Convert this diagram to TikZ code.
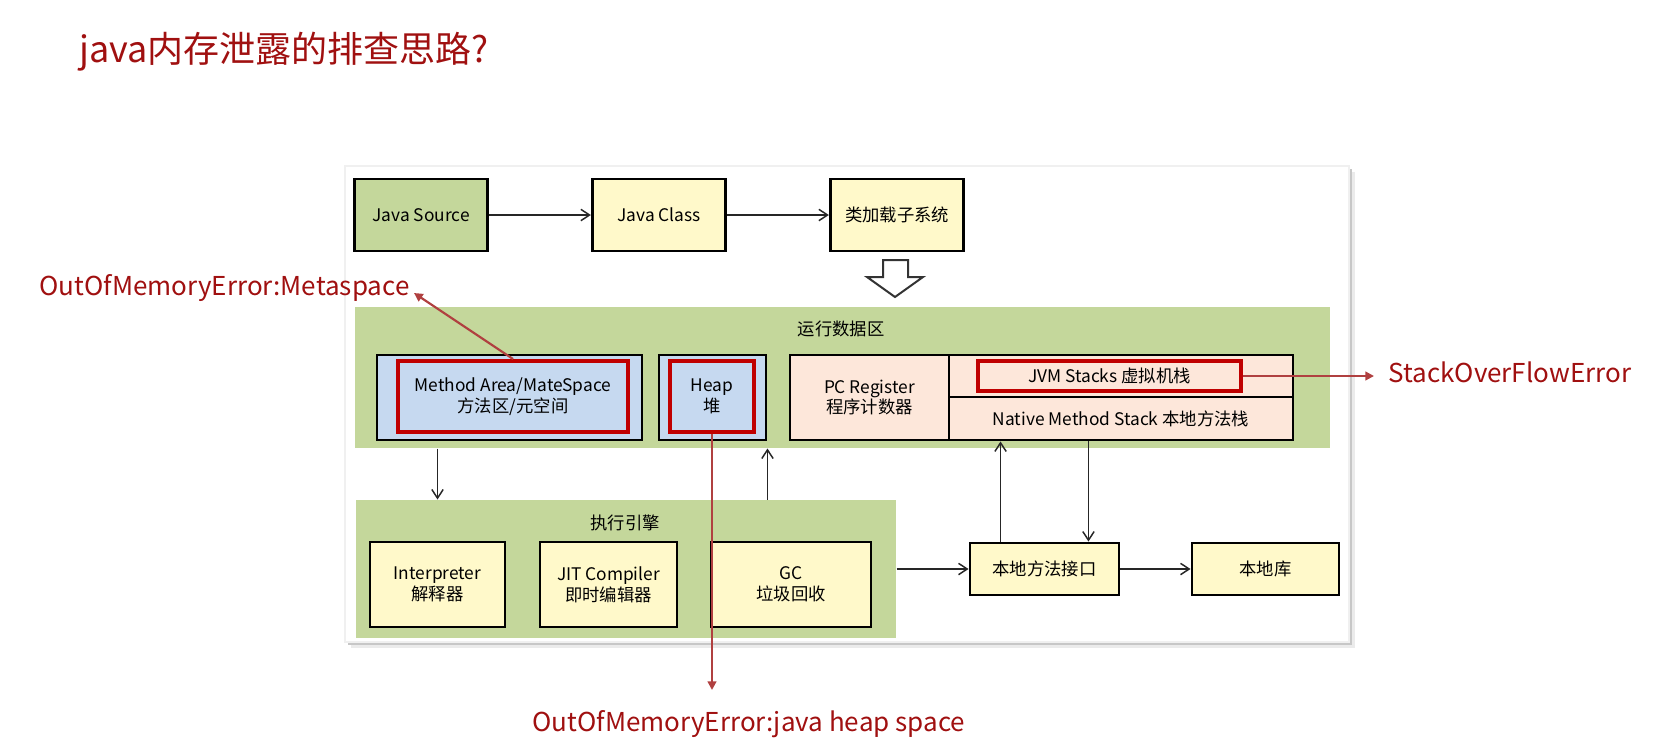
\documentclass[tikz,border=0pt]{standalone}
\usepackage{fontspec}
\setmainfont{Noto Sans CJK SC}
\usetikzlibrary{arrows.meta,calc}

\definecolor{areagreen}{HTML}{C4D79B}
\definecolor{boxyellow}{HTML}{FFF9CA}
\definecolor{memblue}{HTML}{C6D9F0}
\definecolor{pcpeach}{HTML}{FDE7DA}
\definecolor{boxred}{HTML}{C00000}
\definecolor{errred}{HTML}{A01010}
\definecolor{arrowred}{HTML}{B04040}

\tikzset{every picture/.style={line width=0.75pt}}
\tikzset{
  area/.style={fill=areagreen, inner sep=0pt},
  areatext/.style={inner sep=0pt, font=\fontsize{13}{15.5}\selectfont},
  unitbox/.style={draw=black, line width=2.2pt, align=center, inner sep=0pt,
    font=\fontsize{13}{15.5}\selectfont},
  redbox/.style={draw=boxred, line width=3pt, align=center, inner sep=0pt,
    font=\fontsize{13}{15.5}\selectfont},
  errlabel/.style={text=errred, inner sep=0pt, anchor=west,
    font=\fontsize{19.5}{23}\selectfont},
  flow/.style={draw=black!85, line width=1.1pt, -{Straight Barb[length=6.5pt,width=8.5pt]}},
  errarrow/.style={draw=arrowred, line width=1.6pt, -{Triangle[length=6.5pt,width=6.5pt]}}
}

\begin{document}
\begin{tikzpicture}[x=0.75pt,y=0.75pt,yscale=-1,xscale=1]
\useasboundingbox (0,0) rectangle (1653,744);

% Title
\node[inner sep=0pt, anchor=west, text=errred, font=\fontsize{27}{32}\selectfont] (title) at (79,52) {java内存泄露的排查思路?};

% Panel
\fill[black!8] (351,172) rectangle (1355,648);
\fill[black!22] (348,169) rectangle (1352,645);
\draw[black!6, line width=1pt, fill=white] (345,166) rectangle (1349,642);

% Text Node
\node[unitbox, fill=areagreen, minimum width=100pt, minimum height=54pt] (javasrc) at (421,215) {Java Source};
% Text Node
\node[unitbox, fill=boxyellow, minimum width=100pt, minimum height=54pt] (javacls) at (659,215) {Java Class};
% Text Node
\node[unitbox, fill=boxyellow, minimum width=100pt, minimum height=54pt] (loader) at (897,215) {类加载子系统};

% Block arrow
\draw[draw=black!80, line width=1.5pt, fill=white] (883,260) -- (908,260) -- (908,277) -- (923,277) -- (895,297) -- (867,277) -- (883,277) -- cycle;

% Runtime data area
\node[area, minimum width=731.25pt, minimum height=105.75pt] (rtarea) at (842.5,377.5) {};
\node[areatext] (rtlabel) at (841,329) {运行数据区};
% Text Node
\node[unitbox, fill=memblue, minimum width=198.75pt, minimum height=63.75pt] (marea) at (509.5,397.5) {};
\node[redbox, minimum width=172.5pt, minimum height=53.25pt] (mareain) at (513,396.5) {Method Area/MateSpace\\方法区/元空间};
% Text Node
\node[unitbox, fill=memblue, minimum width=80.25pt, minimum height=63.75pt] (heap) at (712.5,397.5) {};
\node[redbox, minimum width=63pt, minimum height=53.25pt] (heapin) at (712,396.5) {Heap\\堆};
% Text Node
\node[unitbox, fill=pcpeach, minimum width=119.25pt, minimum height=63.75pt] (pcreg) at (869.5,397.5) {PC Register\\程序计数器};
\node[unitbox, fill=pcpeach, minimum width=258pt, minimum height=31.5pt] (jvmstk) at (1121,376) {};
\node[unitbox, fill=pcpeach, minimum width=258pt, minimum height=32.25pt] (nstack) at (1121,418.5) {Native Method Stack 本地方法栈};
\node[redbox, minimum width=197.25pt, minimum height=22.5pt] (jvmin) at (1109.5,376) {JVM Stacks 虚拟机栈};

% Execution engine
\node[area, minimum width=405pt, minimum height=103.5pt] (exec) at (626,569) {};
\node[areatext] (execlabel) at (625,523) {执行引擎};
% Text Node
\node[unitbox, fill=boxyellow, minimum width=101.25pt, minimum height=63.75pt] (interp) at (437.5,584.5) {Interpreter\\解释器};
% Text Node
\node[unitbox, fill=boxyellow, minimum width=102.75pt, minimum height=63.75pt] (jit) at (608.5,584.5) {JIT Compiler\\即时编辑器};
% Text Node
\node[unitbox, fill=boxyellow, minimum width=120pt, minimum height=63.75pt] (gc) at (791,584.5) {GC\\垃圾回收};

% Text Node
\node[unitbox, fill=boxyellow, minimum width=111.75pt, minimum height=39pt] (jni) at (1044.5,569) {本地方法接口};
% Text Node
\node[unitbox, fill=boxyellow, minimum width=110.25pt, minimum height=39pt] (nlib) at (1265.5,569) {本地库};

% Error labels
\node[errlabel] (metalabel) at (39,288) {OutOfMemoryError:Metaspace};
\node[errlabel] (heaplabel) at (532,724) {OutOfMemoryError:java heap space};
\node[errlabel] (sofe) at (1388,372) {StackOverFlowError};
\coordinate (metatip) at (414,293);
\coordinate (heaptip) at (712,690);
\coordinate (sofetip) at (1374,376);
\coordinate (jniup) at ($(jni.north west)+(32,0)$);
\coordinate (jnidown) at ($(jni.north east)+(-32,0)$);

% Connection
\draw[flow] (javasrc) -- (javacls);
% Connection
\draw[flow] (javacls) -- (loader);
% Connection
\draw[flow] (rtarea.south -| interp.north) -- (exec.north -| interp.north);
% Connection
\draw[flow] (exec.north -| heap.east) -- (rtarea.south -| heap.east);
% Connection
\draw[flow] (exec.east) -- (jni.west);
% Connection
\draw[flow] (jni) -- (nlib);
% Connection
\draw[flow] (jniup) -- (jniup |- nstack.south);
% Connection
\draw[flow] (jnidown |- nstack.south) -- (jnidown);

% Error arrows
\draw[errarrow] (mareain.north) -- (metatip);
\draw[errarrow] (heapin.south) -- (heaptip);
\draw[errarrow] (jvmin.east) -- (sofetip);

\end{tikzpicture}
\end{document}
